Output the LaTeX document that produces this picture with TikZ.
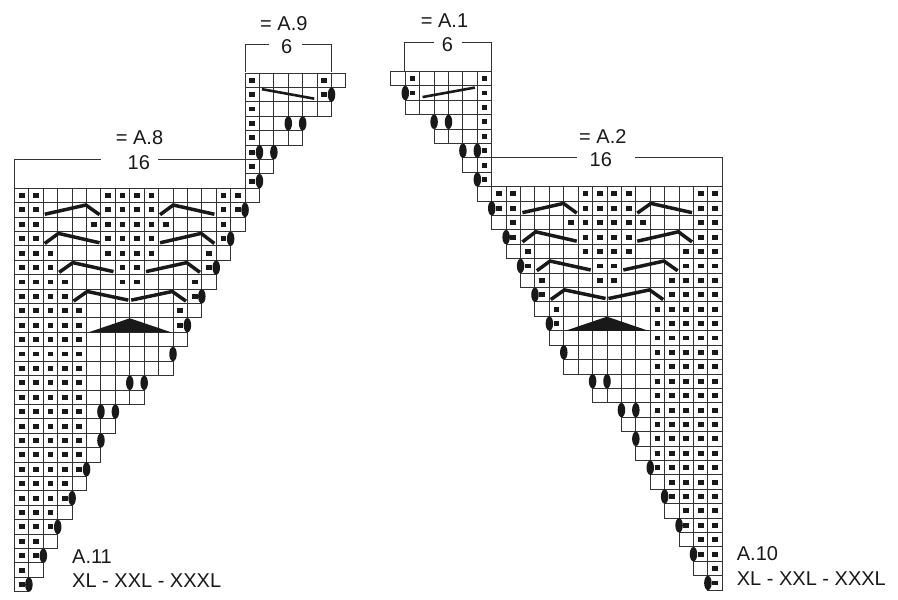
\documentclass[tikz,border=0pt]{standalone}
\usepackage{fontspec}
\setmainfont{Liberation Sans}
\definecolor{inkline}{gray}{0.2}
\definecolor{inkfill}{gray}{0.1}
\tikzset{
  cell/.style={draw=inkline,line width=1pt},
  purl/.style={fill=inkfill},
  yarnover/.style={fill=inkfill},
  cable/.style={draw=inkfill,line width=3.5pt,line cap=butt,line join=miter},
  bracket/.style={draw=inkline,line width=1pt},
  caption/.style={text=inkfill,inner sep=0pt,anchor=base west,font=\fontsize{20}{22}\selectfont},
}
% one half of the chart, x is negative for the mirrored half
\newcommand{\knitchart}[3]{%
\begin{scope}[shift={(#1,#2)},x=#3,y=-14.41pt]
  \foreach \r/\s/\w/\dl in {
    -8/16/23/{16,21},-7/16/22/{16,21},-6/16/22/{16},-5/16/20/{16},
    -4/16/20/{16},-3/16/18/{16},-2/16/18/{16},-1/16/17/{16},
    0/0/17/{0,1,6,7,8,9,14,15},1/0/16/{0,1,6,7,8,9,14,15},
    2/0/16/{0,1,5,6,7,8,9,10,14},3/0/15/{0,1,6,7,8,9,14},
    4/0/15/{0,1,2,6,7,8,9,13},5/0/14/{0,1,2,7,8,13},
    6/0/14/{0,1,2,3,7,8,12},7/0/13/{0,1,2,3,12},
    8/0/13/{0,1,2,3,4,11},9/0/12/{0,1,2,3,4,11},
    10/0/12/{0,1,2,3,4},11/0/11/{0,1,2,3,4},12/0/11/{0,1,2,3,4},
    13/0/9/{0,1,2,3,4},14/0/9/{0,1,2,3,4},15/0/7/{0,1,2,3,4},
    16/0/7/{0,1,2,3,4},17/0/6/{0,1,2,3,4},18/0/6/{0,1,2,3,4},
    19/0/5/{0,1,2,3,4},20/0/5/{0,1,2,3},21/0/4/{0,1,2,3},
    22/0/4/{0,1,2},23/0/3/{0,1,2},24/0/3/{0,1},25/0/2/{0,1},
    26/0/2/{0},27/0/1/{0}} {
    \pgfmathtruncatemacro{\lastc}{\w-1}
    \foreach \c in {\s,...,\lastc} \draw[cell] (\c,\r) rectangle +(1,1);
    \foreach \c in \dl \fill[purl] (\c+.3,\r+.33) rectangle (\c+.7,\r+.67);
  }
  \foreach \r/\c in {-7/22,-5/19,-5/20,-3/17,-3/18,-1/17,1/16,3/15,5/14,7/13,9/12,
    11/11,13/8,13/9,15/6,15/7,17/6,19/5,21/4,23/3,25/2,27/1}
    \fill[yarnover] (\c,\r+.5) ellipse [x radius=.26,y radius=.5];
  \draw[cable,line width=2.6pt] (17.17,-6.88)--(20.8,-6.22);
  \draw[cable] (2.1,1.8)--(4.95,1.16)--(5.9,1.83);
  \draw[cable] (10.1,1.83)--(11.02,1.16)--(13.87,1.8);
  \draw[cable] (2.1,3.83)--(3.05,3.13)--(5.9,3.78);
  \draw[cable] (10.1,3.78)--(12.95,3.13)--(13.87,3.83);
  \draw[cable] (3.1,5.83)--(4.05,5.16)--(6.87,5.78);
  \draw[cable] (9.13,5.78)--(11.95,5.16)--(12.87,5.83);
  \draw[cable] (4.1,7.83)--(5.05,7.16)--(7.9,7.76);
  \draw[cable] (8.1,7.76)--(10.95,7.16)--(11.9,7.83);
  \fill[inkfill] (5.12,10)--(8,9.02)--(10.9,10)--cycle;
\end{scope}}

\begin{document}
\begin{tikzpicture}[x=1pt,y=-1pt]
  \useasboundingbox (0,0) rectangle (898,600);
  \knitchart{14.5}{188.3}{14.41pt}
  \knitchart{722.3}{186.7}{-14.41pt}
  % brackets
  \draw[bracket] (14.5,188.3)--(14.5,159.3)--(100.7,159.3);
  \draw[bracket] (158,159.3)--(245,159.3);
  \draw[bracket] (245,72)--(245,44)--(269,44);
  \draw[bracket] (301.7,44)--(331.7,44)--(331.7,72);
  \draw[bracket] (404.3,70.7)--(404.3,42.3)--(434,42.3);
  \draw[bracket] (462.3,42.3)--(491.7,42.3)--(491.7,70.7);
  \draw[bracket] (491.7,157.3)--(576.7,157.3);
  \draw[bracket] (635,157.3)--(722.3,157.3)--(722.3,186.7);
  % texts
  \node[caption] (nine) at (260,30) {= A.9};
  \node[caption] (ninew) at (281,53.3) {6};
  \node[caption] (eight) at (115.7,144.3) {= A.8};
  \node[caption] (eightw) at (127.5,169) {16};
  \node[caption] (one) at (420.7,27.3) {= A.1};
  \node[caption] (onew) at (441.7,51.7) {6};
  \node[caption] (two) at (579,143.3) {= A.2};
  \node[caption] (twow) at (589.5,166.7) {16};
  \node[caption] (eleven) at (72,563) {A.11};
  \node[caption] (elevens) at (72,587.3) {XL - XXL - XXXL};
  \node[caption] (ten) at (736.7,560.7) {A.10};
  \node[caption] (tens) at (736.7,585) {XL - XXL - XXXL};
\end{tikzpicture}
\end{document}
